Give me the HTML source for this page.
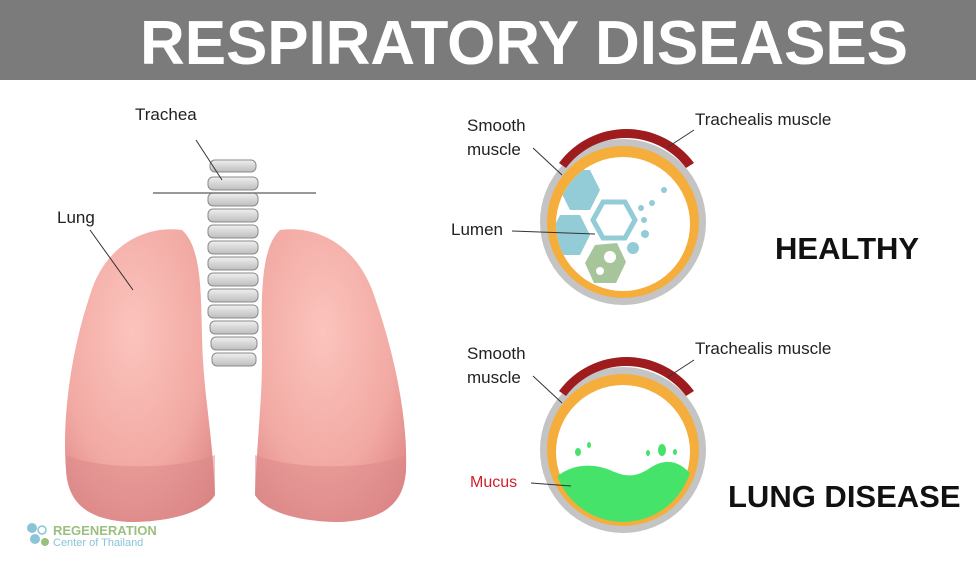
<!DOCTYPE html>
<html><head><meta charset="utf-8"><style>
html,body{margin:0;padding:0;background:#fff}
svg{display:block}
text{font-family:"Liberation Sans",sans-serif}
</style></head><body>
<svg width="976" height="562" viewBox="0 0 976 562" xmlns="http://www.w3.org/2000/svg">
<defs>
<radialGradient id="lg" cx="0.45" cy="0.35" r="0.8">
<stop offset="0" stop-color="#fbc4bd"/><stop offset="0.6" stop-color="#f2a9a3"/><stop offset="1" stop-color="#d97f80"/>
</radialGradient>
<linearGradient id="rg" x1="0" y1="0" x2="0" y2="1">
<stop offset="0" stop-color="#f0f0f0"/><stop offset="1" stop-color="#bdbdbd"/>
</linearGradient>
<clipPath id="c1"><circle cx="623" cy="224" r="67"/></clipPath>
<clipPath id="c2"><circle cx="623" cy="452" r="70"/></clipPath>
</defs>
<rect x="0" y="0" width="976" height="80" fill="#7b7b7b"/>
<text x="525" y="64" text-anchor="middle" font-size="62" font-weight="bold" fill="#fff" letter-spacing="2" textLength="770">RESPIRATORY DISEASES</text>

<!-- lungs -->
<path d="M182,230 C145,225 105,245 90,295 C70,355 62,420 66,470 C68,505 90,520 130,522 C170,522 205,512 215,495 C213,440 205,400 203,360 C200,310 205,250 182,230 Z" fill="url(#lg)"/>
<path d="M280,230 C317,225 357,245 374,295 C395,355 408,420 406,470 C404,505 382,520 340,522 C300,522 265,512 255,495 C257,440 262,400 262,360 C262,310 258,250 280,230 Z" fill="url(#lg)"/>
<path d="M66,455 C100,470 180,470 215,455 L215,495 C205,512 170,522 130,522 C90,520 68,505 66,470Z" fill="#d98787" opacity="0.5"/>
<path d="M406,455 C372,470 292,470 255,455 L255,495 C265,512 300,522 340,522 C382,520 404,505 406,470Z" fill="#d98787" opacity="0.5"/>

<!-- trachea -->
<g stroke="#8a8a8a" stroke-width="1">
<rect x="210" y="160" width="46" height="12" rx="5" fill="url(#rg)"/>
<rect x="208" y="177" width="50" height="13" rx="5" fill="url(#rg)"/>
<rect x="208" y="193" width="50" height="13" rx="5" fill="url(#rg)"/>
<rect x="208" y="209" width="50" height="13" rx="5" fill="url(#rg)"/>
<rect x="208" y="225" width="50" height="13" rx="5" fill="url(#rg)"/>
<rect x="208" y="241" width="50" height="13" rx="5" fill="url(#rg)"/>
<rect x="208" y="257" width="50" height="13" rx="5" fill="url(#rg)"/>
<rect x="208" y="273" width="50" height="13" rx="5" fill="url(#rg)"/>
<rect x="208" y="289" width="50" height="13" rx="5" fill="url(#rg)"/>
<rect x="208" y="305" width="50" height="13" rx="5" fill="url(#rg)"/>
<rect x="210" y="321" width="48" height="13" rx="5" fill="url(#rg)"/>
<rect x="211" y="337" width="46" height="13" rx="5" fill="url(#rg)"/>
<rect x="212" y="353" width="44" height="13" rx="5" fill="url(#rg)"/>
</g>
<line x1="153" y1="193" x2="316" y2="193" stroke="#777" stroke-width="1.5"/>
<line x1="196" y1="140" x2="222" y2="180" stroke="#333" stroke-width="1"/>
<text x="135" y="120" font-size="17" fill="#222">Trachea</text>
<text x="57" y="223" font-size="17" fill="#222">Lung</text>
<line x1="90" y1="230" x2="133" y2="290" stroke="#333" stroke-width="1"/>

<!-- healthy circle -->
<circle cx="623" cy="222" r="83" fill="#c4c4c4"/>
<circle cx="623" cy="222" r="76" fill="#f5ad3b"/>
<path d="M559,163 A84,84 0 0 1 694,163 L686,168 A75,75 0 0 0 566,168 Z" fill="#9e1b1e"/>
<circle cx="623" cy="224" r="67" fill="#fff"/>
<g clip-path="url(#c1)">
<polygon points="570,170 590,170 600,190 590,210 570,210 560,190" fill="#93cbd6"/>
<polygon points="560,215 580,215 590,235 580,255 560,255 550,235" fill="#93cbd6"/>
<polygon points="603,202 625,202 635,220 625,238 603,238 593,220" fill="none" stroke="#93cbd6" stroke-width="5"/>
<polygon points="595,245 617,243 626,262 616,283 594,283 585,263" fill="#a6c59b"/>
</g>
<circle cx="610" cy="257" r="6" fill="#fff"/><circle cx="600" cy="271" r="4" fill="#fff"/>
<circle cx="664" cy="190" r="3" fill="#93cbd6"/><circle cx="652" cy="203" r="3" fill="#93cbd6"/>
<circle cx="641" cy="208" r="3" fill="#93cbd6"/><circle cx="644" cy="220" r="3" fill="#93cbd6"/>
<circle cx="645" cy="234" r="4" fill="#93cbd6"/><circle cx="633" cy="248" r="6" fill="#93cbd6"/>
<line x1="533" y1="148" x2="562" y2="175" stroke="#333"/>
<line x1="694" y1="130" x2="668" y2="147" stroke="#333"/>
<line x1="512" y1="231" x2="595" y2="234" stroke="#333"/>
<text x="467" y="131" font-size="17" fill="#222">Smooth</text>
<text x="467" y="155" font-size="17" fill="#222">muscle</text>
<text x="695" y="125" font-size="17" fill="#222">Trachealis muscle</text>
<text x="451" y="235" font-size="17" fill="#222">Lumen</text>
<text x="775" y="259" font-size="31" font-weight="bold" fill="#111">HEALTHY</text>

<!-- disease circle -->
<circle cx="623" cy="450" r="83" fill="#c4c4c4"/>
<circle cx="623" cy="450" r="76" fill="#f5ad3b"/>
<path d="M559,391 A84,84 0 0 1 694,391 L686,396 A75,75 0 0 0 566,396 Z" fill="#9e1b1e"/>
<circle cx="623" cy="452" r="67" fill="#fff"/>
<g clip-path="url(#c2)">
<path d="M555,478 C570,465 590,462 610,470 C625,477 635,478 650,468 C665,458 680,460 692,476 L692,530 L555,530 Z" fill="#45e36a"/>
</g>
<circle cx="623" cy="450" r="76" fill="none" stroke="#f5ad3b" stroke-width="9" opacity="0"/>
<ellipse cx="578" cy="452" rx="3" ry="4" fill="#45e36a"/><ellipse cx="589" cy="445" rx="2" ry="3" fill="#45e36a"/>
<ellipse cx="662" cy="450" rx="4" ry="6" fill="#45e36a"/><ellipse cx="648" cy="453" rx="2" ry="3" fill="#45e36a"/><ellipse cx="675" cy="452" rx="2" ry="3" fill="#45e36a"/>
<line x1="533" y1="376" x2="562" y2="403" stroke="#333"/>
<line x1="694" y1="360" x2="668" y2="377" stroke="#333"/>
<line x1="531" y1="483" x2="571" y2="486" stroke="#333"/>
<text x="467" y="359" font-size="17" fill="#222">Smooth</text>
<text x="467" y="383" font-size="17" fill="#222">muscle</text>
<text x="695" y="354" font-size="17" fill="#222">Trachealis muscle</text>
<text x="470" y="487" font-size="16" fill="#d0202a">Mucus</text>
<text x="728" y="507" font-size="31" font-weight="bold" fill="#111">LUNG DISEASE</text>

<!-- logo -->
<circle cx="32" cy="528" r="5" fill="#8ac4d6"/><circle cx="35" cy="539" r="5" fill="#8ac4d6"/>
<circle cx="42" cy="530" r="4" fill="none" stroke="#8ac4d6" stroke-width="1.5"/>
<circle cx="45" cy="542" r="4" fill="#9bbf7f"/>
<text x="53" y="535" font-size="13" font-weight="bold" fill="#9bbf7f">REGENERATION</text>
<text x="53" y="546" font-size="11" fill="#8ac4d6">Center of Thailand</text>
</svg>
</body></html>
